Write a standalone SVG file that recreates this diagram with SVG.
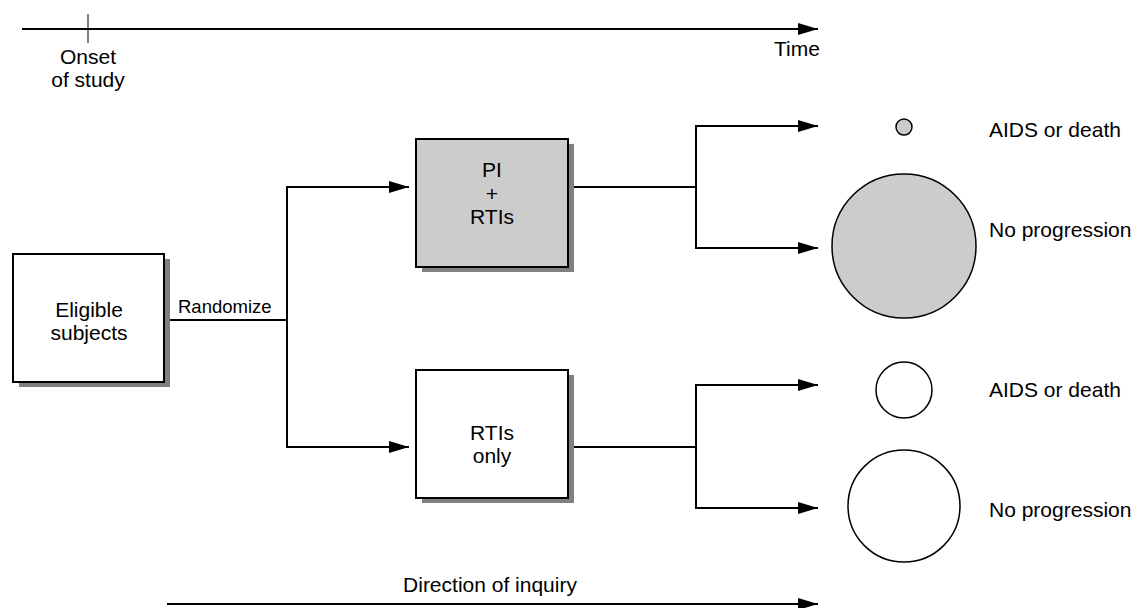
<svg xmlns="http://www.w3.org/2000/svg" width="1135" height="608" viewBox="0 0 1135 608">
  <style>
    text { font-family: "Liberation Sans", Arial, Helvetica, sans-serif; font-size: 21px; fill: #000; }
    .mid { text-anchor: middle; }
    .small { font-size: 18.5px; }
    .box { stroke: #000; stroke-width: 2; }
    .shadow { fill: #808080; }
    .wire { fill: none; stroke: #000; stroke-width: 2; }
    .thin { fill: none; stroke: #000; stroke-width: 1; }
    .dot { stroke: #000; stroke-width: 1.5; }
  </style>
  <defs>
    <marker id="head" viewBox="0 0 20 12" refX="20" refY="6" markerWidth="20" markerHeight="12" markerUnits="userSpaceOnUse" orient="auto">
      <path d="M0,0 L20,6 L0,12 Z" fill="#000"/>
    </marker>
  </defs>

  <!-- time axis -->
  <g id="time-axis">
    <line class="wire" x1="22" y1="29" x2="818" y2="29" marker-end="url(#head)"/>
    <line class="thin" x1="88" y1="14" x2="88" y2="43"/>
    <text class="mid" x="88" y="64">Onset</text>
    <text class="mid" x="88" y="87">of study</text>
    <text x="774" y="56">Time</text>
  </g>

  <!-- connectors -->
  <g id="connectors">
    <!-- randomization fork -->
    <path class="wire" d="M164,320 H287 M287,186 V447"/>
    <line class="wire" x1="286" y1="187" x2="409" y2="187" marker-end="url(#head)"/>
    <line class="wire" x1="286" y1="447" x2="409" y2="447" marker-end="url(#head)"/>
    <!-- PI + RTIs outcomes -->
    <path class="wire" d="M568,187 H696 M696,125 V249"/>
    <line class="wire" x1="695" y1="126" x2="818" y2="126" marker-end="url(#head)"/>
    <line class="wire" x1="695" y1="248" x2="818" y2="248" marker-end="url(#head)"/>
    <!-- RTIs only outcomes -->
    <path class="wire" d="M568,447 H696 M696,384 V509"/>
    <line class="wire" x1="695" y1="385" x2="818" y2="385" marker-end="url(#head)"/>
    <line class="wire" x1="695" y1="508" x2="818" y2="508" marker-end="url(#head)"/>
    <text class="small" x="178" y="313">Randomize</text>
  </g>

  <!-- nodes -->
  <g id="eligible">
    <rect class="shadow" x="19" y="259" width="151" height="128"/>
    <rect class="box" x="13" y="254" width="151" height="128" fill="#fff"/>
    <text class="mid" x="89" y="317">Eligible</text>
    <text class="mid" x="89" y="340">subjects</text>
  </g>

  <g id="pi-rtis">
    <rect class="shadow" x="422" y="144" width="152" height="128"/>
    <rect class="box" x="416" y="139" width="152" height="128" fill="#ccc"/>
    <text class="mid" x="492" y="177">PI</text>
    <text class="mid" x="492" y="201">+</text>
    <text class="mid" x="492" y="224">RTIs</text>
  </g>

  <g id="rtis-only">
    <rect class="shadow" x="422" y="375" width="152" height="128"/>
    <rect class="box" x="416" y="370" width="152" height="128" fill="#fff"/>
    <text class="mid" x="492" y="440">RTIs</text>
    <text class="mid" x="492" y="463">only</text>
  </g>

  <!-- outcomes -->
  <g id="pi-aids">
    <circle class="dot" cx="904" cy="127" r="8" fill="#ccc"/>
    <text x="989" y="137">AIDS or death</text>
  </g>
  <g id="pi-noprog">
    <circle class="dot" cx="904" cy="246" r="72" fill="#ccc"/>
    <text x="989" y="237">No progression</text>
  </g>
  <g id="rti-aids">
    <circle class="dot" cx="904" cy="390" r="28" fill="#fff"/>
    <text x="989" y="397">AIDS or death</text>
  </g>
  <g id="rti-noprog">
    <circle class="dot" cx="904" cy="506" r="56" fill="#fff"/>
    <text x="989" y="517">No progression</text>
  </g>

  <!-- direction of inquiry -->
  <g id="inquiry">
    <line class="wire" x1="167" y1="604" x2="818" y2="604" marker-end="url(#head)"/>
    <text class="mid" x="490" y="592">Direction of inquiry</text>
  </g>
</svg>
